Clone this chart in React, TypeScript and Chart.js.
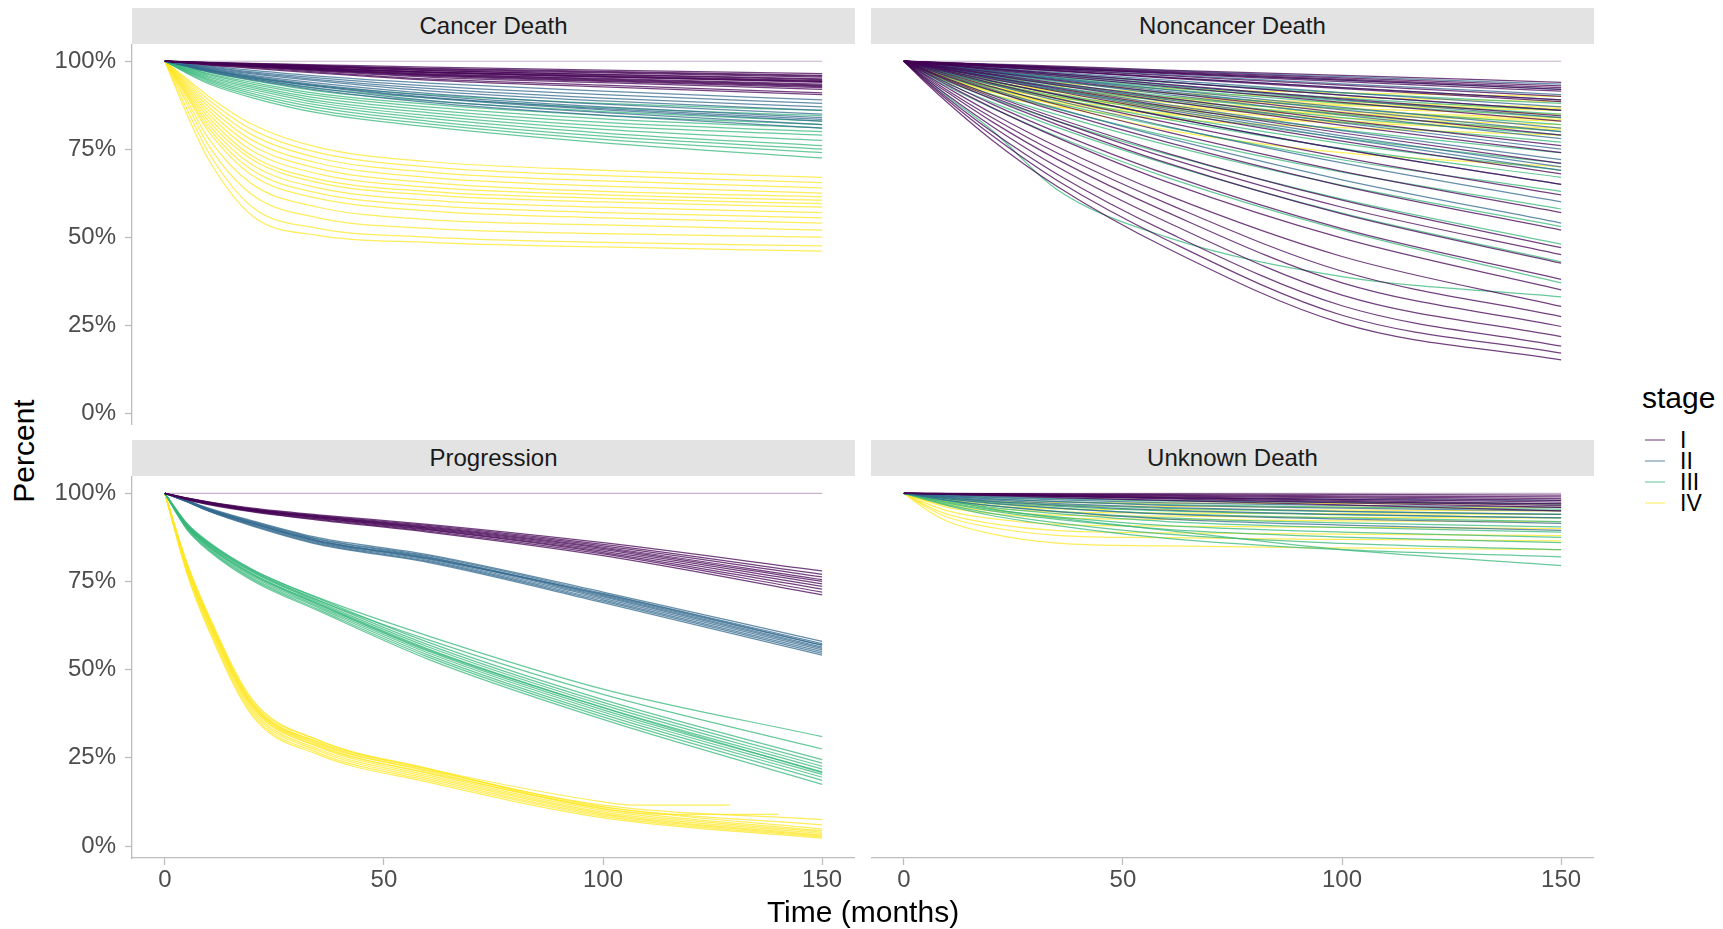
import React, { useEffect, useRef } from "react";
import { Chart, registerables } from "chart.js";

Chart.register(...registerables);

// ---------------- data ----------------
const TIME = [0, 5, 10, 20, 35, 60, 100, 150];
const STAGES = ["I", "II", "III", "IV"];
const Y_TICKS = [0, 25, 50, 75, 100];
const X_TICKS = [0, 50, 100, 150];
const FLAT_LINE = [100, 100, 100, 100, 100, 100, 100, 100];

// Cancer Death
const cancerI = [
  [100, 99.9, 99.7, 99.4, 99, 98.3, 97.5, 96.5],
  [100, 99.8, 99.6, 99.3, 98.8, 98, 97.1, 96],
  [100, 99.8, 99.6, 99.2, 98.7, 97.8, 96.9, 95.8],
  [100, 99.8, 99.6, 99.2, 98.6, 97.6, 96.7, 95.5],
  [100, 99.8, 99.5, 99, 98.4, 97.3, 96.3, 95],
  [100, 99.7, 99.5, 99.1, 98.5, 97.4, 96.2, 94.8],
  [100, 99.7, 99.5, 99, 98.2, 97, 95.9, 94.5],
  [100, 99.7, 99.4, 98.9, 98.1, 96.9, 95.7, 94.3],
  [100, 99.7, 99.4, 98.9, 98, 96.8, 95.6, 94.2],
  [100, 99.7, 99.4, 98.8, 98, 96.7, 95.5, 94],
  [100, 99.7, 99.3, 98.7, 97.8, 96.4, 95.1, 93.5],
  [100, 99.6, 99.3, 98.7, 97.7, 96.3, 94.9, 93.2],
  [100, 99.6, 99.3, 98.6, 97.6, 96.1, 94.7, 93],
  [100, 99.6, 99.2, 98.6, 97.5, 96, 94.5, 92.8],
  [100, 99.6, 99.2, 98.5, 97.4, 95.8, 94.3, 92.5],
  [100, 99.6, 99.1, 98.4, 97.2, 95.5, 93.9, 92],
  [100, 99.5, 99, 98.2, 96.9, 95, 93.2, 91],
  [100, 99.5, 98.9, 98, 96.6, 94.6, 92.7, 90.5],
];
const cancerII = [
  [100, 99.3, 98.6, 97.4, 95.8, 93.8, 91.5, 89],
  [100, 99.2, 98.4, 97, 95.3, 93, 90.5, 88],
  [100, 99.1, 98.2, 96.7, 94.8, 92.3, 89.5, 87],
  [100, 99, 98, 96.4, 94.4, 91.6, 88.7, 86],
  [100, 98.9, 97.8, 96, 93.8, 90.9, 87.8, 85],
  [100, 98.8, 97.6, 95.7, 93.3, 90.3, 87, 84],
  [100, 98.7, 97.4, 95.3, 92.8, 89.6, 86.2, 83],
  [100, 98.6, 97.2, 95, 92.3, 88.9, 85.4, 82],
  [100, 98.5, 97, 94.7, 91.8, 88.3, 84.6, 81],
  [100, 98.8, 97.5, 95.4, 93, 89.8, 86.5, 83.5],
];
const cancerIII = [
  [100, 98.8, 97.6, 95.5, 93, 90.5, 88, 86],
  [100, 98.6, 97.2, 95, 92.2, 89.6, 86.8, 84.5],
  [100, 98.4, 96.9, 94.5, 91.5, 88.7, 85.7, 83],
  [100, 98.2, 96.5, 94, 90.8, 87.8, 84.6, 82],
  [100, 98, 96.2, 93.5, 90.2, 87, 83.6, 81],
  [100, 97.8, 95.8, 93, 89.5, 86.2, 82.6, 80],
  [100, 97.6, 95.5, 92.5, 88.8, 85.4, 81.6, 79],
  [100, 97.4, 95.1, 92, 88.2, 84.6, 80.6, 77.5],
  [100, 97.2, 94.8, 91.4, 87.5, 83.8, 79.6, 76],
  [100, 97, 94.4, 90.8, 86.8, 83, 78.7, 75],
  [100, 96.8, 94, 90.2, 86, 82.2, 77.8, 74],
  [100, 96.6, 93.6, 89.6, 85.3, 81.4, 76.8, 72.5],
];
const cancerIV = [
  [100, 95, 90, 82, 75.5, 71.5, 69, 67],
  [100, 94.5, 89, 80.5, 74, 70, 67.5, 65.5],
  [100, 94, 88, 79, 72.5, 68.5, 66, 64],
  [100, 93.5, 87, 77.5, 71, 67, 64.5, 62.5],
  [100, 93, 86, 76, 69.5, 65.5, 63, 61.5],
  [100, 92.5, 85, 74.5, 68, 64.2, 62, 60.5],
  [100, 92, 84, 73, 66.5, 63, 61, 59.5],
  [100, 91.5, 83, 72, 65.5, 62, 60, 58.5],
  [100, 91, 82, 70.5, 64, 60.5, 58.5, 57],
  [100, 90.5, 81, 69, 62.5, 59, 57, 55.5],
  [100, 90, 80, 67.5, 61, 57.5, 55.5, 54],
  [100, 89, 78, 65, 58.5, 55, 53.5, 52],
  [100, 88, 76, 62, 55.5, 52.5, 51, 50],
  [100, 86.5, 74, 58.5, 52.5, 50, 48.5, 47.5],
  [100, 85, 72, 56, 50.5, 48.5, 47.2, 46],
];

// Noncancer Death
const noncancerI = [
  [100, 99.8, 99.6, 99.2, 98.6, 97.5, 96, 94],
  [100, 99.8, 99.5, 99, 98.3, 97.1, 95.3, 93],
  [100, 99.7, 99.5, 99, 98.2, 96.9, 94.9, 92.5],
  [100, 99.7, 99.4, 98.9, 98, 96.7, 94.6, 92],
  [100, 99.7, 99.4, 98.8, 97.9, 96.5, 94.2, 91.5],
  [100, 99.6, 99.3, 98.6, 97.6, 95.9, 93.2, 90],
  [100, 99.6, 99.2, 98.5, 97.3, 95.4, 92.5, 89],
  [100, 99.6, 99.2, 98.4, 97.2, 95.2, 92.2, 88.5],
  [100, 99.5, 99, 98, 96.5, 94.1, 90.4, 86],
  [100, 99.4, 98.9, 97.8, 96.1, 93.4, 89.3, 84.5],
  [100, 99.4, 98.8, 97.5, 95.7, 92.8, 88.3, 83],
  [100, 99.2, 98.4, 96.9, 94.6, 91, 85.4, 79],
  [100, 99.1, 98.2, 96.4, 93.8, 89.6, 83.2, 76],
  [100, 99, 98, 96.1, 93.2, 88.6, 81.8, 74],
  [100, 98.9, 97.7, 95.5, 92.3, 87.2, 79.6, 71],
  [100, 98.7, 97.5, 95, 91.4, 85.7, 77.3, 68],
  [100, 98.6, 97.2, 94.4, 90.5, 84.2, 75, 65],
  [100, 98.4, 96.9, 93.8, 89.4, 82.6, 72.7, 62],
  [100, 98.1, 96.3, 92.8, 87.7, 79.9, 68.7, 57],
  [100, 97.8, 95.7, 91.7, 85.8, 77, 64.6, 52],
  [100, 97.5, 95.1, 90.4, 83.8, 73.9, 60.5, 47],
  [100, 97.4, 94.8, 89.9, 83, 72.6, 58.5, 45],
  [100, 97.2, 94.5, 89.3, 82, 71.1, 56.6, 42.6],
  [100, 96.8, 93.8, 87.9, 79.8, 67.9, 52.4, 38],
  [100, 96.6, 93.2, 86.9, 78.3, 65.7, 49.7, 35],
  [100, 96.1, 92.4, 85.3, 75.7, 62, 44.5, 30.3],
  [100, 95.8, 91.7, 84.1, 73.9, 59.6, 40.3, 27.4],
  [100, 95.4, 91.1, 82.9, 72.1, 57.1, 37, 24.6],
  [100, 95, 90.3, 81.6, 70, 54.3, 33.5, 21.7],
  [100, 94.6, 89.5, 80.1, 67.9, 51.5, 30.5, 19],
  [100, 94.3, 88.9, 79, 66.1, 49.2, 27.8, 17],
  [100, 93.9, 88.2, 77.7, 64.4, 46.9, 25.5, 15.1],
];
const noncancerII = [
  [100, 99.8, 99.5, 99.1, 98.4, 97.3, 95.6, 93.5],
  [100, 99.7, 99.4, 98.9, 98, 96.7, 94.6, 92],
  [100, 99.6, 99.3, 98.7, 97.7, 96.1, 93.6, 90.5],
  [100, 99.6, 99.2, 98.5, 97.3, 95.4, 92.5, 89],
  [100, 99.5, 99.1, 98.1, 96.8, 94.6, 91.1, 87],
  [100, 99.5, 99, 98, 96.5, 94.1, 90.4, 86],
  [100, 99.4, 98.8, 97.7, 96, 93.3, 89, 84],
  [100, 99.3, 98.6, 97.2, 95.2, 91.9, 86.9, 81],
  [100, 99.3, 98.5, 97.1, 94.9, 91.4, 86.2, 80],
  [100, 99.2, 98.3, 96.7, 94.4, 90.5, 84.7, 78],
  [100, 99, 98.1, 96.2, 93.5, 89.1, 82.5, 75],
  [100, 98.9, 97.8, 95.7, 92.6, 87.7, 80.3, 72],
  [100, 98.8, 97.7, 95.4, 92, 86.7, 78.8, 70],
  [100, 98.8, 97.6, 95.2, 91.7, 86.2, 78.1, 69],
  [100, 98.6, 97.2, 94.4, 90.5, 84.2, 75, 65],
  [100, 98.3, 96.6, 93.4, 88.8, 81.5, 71.1, 60],
  [100, 98, 96, 92.1, 86.6, 78.2, 66.3, 54],
];
const noncancerIII = [
  [100, 99.3, 98.7, 97.6, 96.2, 94, 91, 88],
  [100, 99.2, 98.5, 97.2, 95.5, 93, 89.5, 86],
  [100, 99.1, 98.4, 97, 95.2, 92.5, 88.8, 85],
  [100, 99, 98.2, 96.8, 94.9, 92, 88, 84],
  [100, 98.9, 98, 96.4, 94.2, 91, 86.5, 82],
  [100, 98.8, 97.8, 96, 93.6, 90, 85, 80],
  [100, 98.7, 97.7, 95.8, 93.2, 89.4, 84, 79],
  [100, 98.6, 97.5, 95.4, 92.6, 88.5, 82.7, 77],
  [100, 98.4, 97.1, 94.8, 91.7, 87, 80.5, 74],
  [100, 98.2, 96.8, 94.2, 90.7, 85.5, 78.2, 71],
  [100, 98.1, 96.6, 93.8, 90, 84.5, 76.6, 69],
  [100, 98, 96.4, 93.4, 89.4, 83.5, 75.2, 67],
  [100, 97.8, 95.9, 92.6, 88, 81.3, 72, 63],
  [100, 97.5, 95.4, 91.6, 86.4, 78.8, 68.5, 58],
  [100, 97.2, 94.8, 90.6, 84.8, 76.2, 64.7, 53],
  [100, 96.9, 94.2, 89.5, 83, 73.6, 60.8, 48],
  [100, 96.6, 93.6, 88.4, 81.2, 70.8, 56.8, 43],
  [100, 96.2, 92.8, 86.8, 78.6, 67, 52, 37],
  [100, 95, 90, 80.5, 63.5, 50, 38.8, 33],
];
const noncancerIV = [
  [100, 98.5, 97.3, 95.5, 93.8, 92.2, 91, 90],
  [100, 98.3, 96.9, 94.8, 92.9, 91, 89.7, 88.5],
  [100, 98, 96.5, 94.1, 91.9, 89.9, 88.3, 87],
  [100, 98, 96.4, 93.9, 91.6, 89.5, 87.8, 86.5],
  [100, 97.9, 96.2, 93.7, 91.3, 89.1, 87.4, 86],
  [100, 97.8, 96, 93.3, 90.7, 88.3, 86.5, 85],
  [100, 97.6, 95.7, 92.8, 90.1, 87.5, 85.6, 84],
  [100, 97.5, 95.5, 92.6, 89.8, 87.1, 85.1, 83.5],
  [100, 97.5, 95.4, 92.4, 89.5, 86.7, 84.7, 83],
  [100, 97.3, 95.1, 91.9, 88.8, 86, 83.8, 82],
  [100, 97.2, 94.9, 91.5, 88.3, 85.2, 83, 81],
  [100, 97.1, 94.7, 91.2, 87.9, 84.8, 82.5, 80.5],
  [100, 96.9, 94.3, 90.5, 87, 83.6, 81.1, 79],
  [100, 98, 96, 92.5, 87.5, 80.5, 74, 70],
];

// Progression
const progressionI = [
  [100, 98.7, 97.6, 95.8, 93.9, 91.2, 86, 78],
  [100, 98.6, 97.5, 95.6, 93.7, 90.9, 85.5, 77],
  [100, 98.6, 97.4, 95.5, 93.5, 90.6, 85.1, 76.3],
  [100, 98.5, 97.3, 95.4, 93.4, 90.4, 84.7, 75.5],
  [100, 98.5, 97.3, 95.3, 93.3, 90.2, 84.4, 75],
  [100, 98.4, 97.2, 95.2, 93.1, 90, 84, 74.3],
  [100, 98.4, 97.1, 95.1, 93, 89.8, 83.6, 73.6],
  [100, 98.3, 97, 95, 92.8, 89.6, 83.2, 72.8],
  [100, 98.3, 96.9, 94.9, 92.6, 89.3, 82.8, 72],
  [100, 98.2, 96.8, 94.7, 92.4, 89, 82.3, 71.2],
];
const progressionII = [
  [100, 98, 95.8, 92.2, 87.4, 82.6, 72, 58],
  [100, 97.9, 95.6, 92, 87.1, 82.3, 71.6, 57.4],
  [100, 97.9, 95.5, 91.8, 86.9, 82, 71.2, 56.9],
  [100, 97.8, 95.4, 91.6, 86.6, 81.8, 70.9, 56.4],
  [100, 97.8, 95.3, 91.5, 86.4, 81.6, 70.6, 56],
  [100, 97.7, 95.2, 91.3, 86.2, 81.3, 70.2, 55.6],
  [100, 97.7, 95.1, 91.1, 86, 81, 69.8, 55.1],
  [100, 97.6, 95, 90.9, 85.7, 80.7, 69.4, 54.6],
  [100, 97.6, 94.9, 90.7, 85.5, 80.4, 69, 54.1],
  [100, 97.8, 95.4, 91.5, 86.5, 81.5, 71.4, 57],
];
const progressionIII = [
  [100, 91.5, 86.2, 78.4, 70.2, 57.8, 41.5, 24.5],
  [100, 91.2, 85.8, 78, 69.7, 57.1, 40.7, 23.5],
  [100, 91, 85.5, 77.6, 69.2, 56.5, 40, 22.6],
  [100, 90.8, 85.2, 77.2, 68.8, 55.9, 39.3, 21.8],
  [100, 90.6, 84.9, 76.8, 68.4, 55.3, 38.6, 21],
  [100, 90.4, 84.6, 76.4, 68, 54.8, 38, 20.3],
  [100, 90.2, 84.3, 76, 67.6, 54.2, 37.3, 19.5],
  [100, 90, 84, 75.6, 67.1, 53.6, 36.6, 18.6],
  [100, 89.8, 83.7, 75.2, 66.7, 53, 35.9, 17.5],
  [100, 91, 85.6, 77.8, 69.6, 58.5, 43, 27.5],
  [100, 91.4, 86, 78.3, 70.4, 59.6, 44.5, 31],
  [100, 90.7, 85, 77, 68.6, 55.6, 39.2, 20.8],
];
const progressionIV = [
  [100, 80.5, 65.5, 41.5, 30, 21.8, 11.2, 4.8],
  [100, 80, 64.8, 40.6, 29.3, 21.2, 10.6, 4.3],
  [100, 79.5, 64.2, 39.9, 28.7, 20.6, 10.1, 3.9],
  [100, 79, 63.6, 39.2, 28.1, 20.1, 9.6, 3.5],
  [100, 78.6, 63, 38.6, 27.5, 19.6, 9.2, 3.1],
  [100, 78.2, 62.4, 38, 27, 19.1, 8.8, 2.8],
  [100, 77.8, 61.8, 37.4, 26.4, 18.6, 8.4, 2.5],
  [100, 77.4, 61.2, 36.8, 25.9, 18.1, 8, 2.2],
  [100, 79.2, 64, 40, 29, 21.5, 11.6, 7.5],
  [100, 78.8, 63.2, 39.4, 28.4, 20.8, 11, 6],
];
const progressionIVShortTime = [
  [0, 5, 10, 20, 35, 60, 100, 107, 129],
  [0, 5, 10, 20, 35, 60, 100, 115, 140],
];
const progressionIVShortValues = [
  [100, 79.6, 64.4, 40.2, 29.5, 21.9, 12.5, 11.6, 11.6],
  [100, 80.2, 65, 41, 30, 22, 10.5, 9, 9],
];

// Unknown Death
const unknownI = [
  [100, 100, 99.95, 99.9, 99.85, 99.8, 99.7, 99.5],
  [100, 99.97, 99.93, 99.87, 99.77, 99.6, 99.3, 99],
  [100, 99.95, 99.9, 99.8, 99.65, 99.4, 99, 98.5],
  [100, 99.93, 99.87, 99.73, 99.5, 99.2, 98.7, 98],
  [100, 99.92, 99.83, 99.67, 99.4, 99, 98.3, 97.5],
  [100, 99.9, 99.8, 99.6, 99.3, 98.8, 98, 97],
  [100, 99.88, 99.77, 99.5, 99.2, 98.6, 97.7, 96.5],
  [100, 99.87, 99.73, 99.47, 99.07, 98.4, 97.3, 96],
  [100, 99.83, 99.67, 99.33, 98.8, 98, 96.7, 95],
];
const unknownII = [
  [100, 99.85, 99.7, 99.45, 99.1, 98.7, 98.3, 98],
  [100, 99.75, 99.5, 99.1, 98.6, 98, 97.5, 97],
  [100, 99.65, 99.3, 98.8, 98.1, 97.3, 96.6, 96],
  [100, 99.55, 99.1, 98.4, 97.6, 96.6, 95.8, 95],
  [100, 99.45, 98.9, 98.1, 97.1, 95.9, 94.9, 94],
  [100, 99.35, 98.7, 97.7, 96.6, 95.2, 94, 93],
  [100, 99.2, 98.4, 97.2, 95.8, 94.1, 92.7, 91.5],
  [100, 99, 98, 96.5, 94.8, 92.7, 91, 89.5],
];
const unknownIII = [
  [100, 99.7, 99.4, 98.9, 98.4, 97.8, 97.4, 97],
  [100, 99.6, 99.1, 98.4, 97.6, 96.8, 96.1, 95.5],
  [100, 99.4, 98.8, 97.8, 96.8, 95.7, 94.8, 94],
  [100, 99.3, 98.6, 97.5, 96.3, 95, 93.9, 93],
  [100, 99.2, 98.4, 97.1, 95.8, 94.2, 93, 92],
  [100, 99, 98, 96.5, 94.9, 93, 91.6, 90.5],
  [100, 98.9, 97.8, 96, 94.2, 92, 90.3, 89],
  [100, 98.7, 97.4, 95.4, 93.3, 90.8, 89, 87.5],
  [100, 98.6, 97.2, 95, 92.6, 89.8, 87.6, 86],
  [100, 98.4, 96.8, 94.3, 91.6, 88.4, 85.8, 84],
  [100, 98.2, 96.5, 93.7, 90.8, 87.2, 84, 82],
  [100, 99, 98, 95.6, 93, 89.5, 84, 79.5],
];
const unknownIV = [
  [100, 95.5, 92, 88.5, 85.9, 85.1, 84.5, 84],
  [100, 96.2, 93.2, 90.3, 88.1, 87.4, 86.9, 86.5],
  [100, 96.6, 94, 91.4, 89.4, 88.8, 88.4, 88],
  [100, 97.2, 95, 92.8, 91.2, 90.7, 90.3, 90],
  [100, 97.8, 96, 94.2, 93, 92.6, 92.2, 92],
  [100, 98, 96.5, 95, 93.8, 93.5, 93.2, 93],
  [100, 98.3, 97, 95.7, 94.7, 94.4, 94.2, 94],
  [100, 98.6, 97.5, 96.4, 95.6, 95.4, 95.2, 95],
  [100, 98.9, 98, 97.1, 96.5, 96.3, 96.1, 96],
  [100, 99.2, 98.5, 97.8, 97.4, 97.2, 97.1, 97],
];

// ---------------- styling ----------------
const FONT = "'Liberation Sans', Arial, Helvetica, sans-serif";
const STAGE_RGB = ["68,1,84", "49,104,142", "53,183,121", "253,231,37"];
const LINE_ALPHA = 0.75;
const LINE_WIDTH = 1.25;
const AXIS_COLOR = "#bdbdbd";
const TICK_TEXT = "#4d4d4d";

type Series = { time: number[]; values: number[] };

function makeSeries(rows: number[][], times?: number[][]): Series[] {
  return rows.map((r, i) => ({ time: times ? times[i] : TIME, values: r }));
}

type PanelSpec = {
  title: string;
  stages: Series[][];
};

const PANELS: PanelSpec[] = [
  { title: "Cancer Death", stages: [makeSeries(cancerI), makeSeries(cancerII), makeSeries(cancerIII), makeSeries(cancerIV)] },
  { title: "Noncancer Death", stages: [makeSeries(noncancerI), makeSeries(noncancerII), makeSeries(noncancerIII), makeSeries(noncancerIV)] },
  {
    title: "Progression",
    stages: [
      makeSeries(progressionI),
      makeSeries(progressionII),
      makeSeries(progressionIII),
      [...makeSeries(progressionIV), ...makeSeries(progressionIVShortValues, progressionIVShortTime)],
    ],
  },
  { title: "Unknown Death", stages: [makeSeries(unknownI), makeSeries(unknownII), makeSeries(unknownIII), makeSeries(unknownIV)] },
];

type Box = { left: number; top: number; width: number; height: number };

function PanelChart({ spec, showX, showY, box }: { spec: PanelSpec; showX: boolean; showY: boolean; box: Box }) {
  const ref = useRef<HTMLCanvasElement>(null);
  useEffect(() => {
    const datasets: any[] = [];
    datasets.push({
      data: TIME.map((t, i) => ({ x: t, y: FLAT_LINE[i] })),
      borderColor: `rgba(${STAGE_RGB[0]},0.3)`,
      borderWidth: 1.2,
    });
    spec.stages.forEach((group, si) => {
      group.forEach((s) => {
        datasets.push({
          data: s.time.map((t, i) => ({ x: t, y: s.values[i] })),
          borderColor: `rgba(${STAGE_RGB[si]},${LINE_ALPHA})`,
          borderWidth: LINE_WIDTH,
        });
      });
    });
    const chart = new Chart(ref.current as HTMLCanvasElement, {
      type: "line",
      data: { datasets },
      options: {
        animation: false,
        responsive: false,
        maintainAspectRatio: false,
        events: [],
        layout: { padding: 0 },
        plugins: { legend: { display: false }, tooltip: { enabled: false }, title: { display: false } },
        elements: {
          point: { radius: 0 },
          line: { borderWidth: LINE_WIDTH, cubicInterpolationMode: "monotone", fill: false },
        },
        scales: {
          x: {
            type: "linear",
            min: -7.5,
            max: 157.5,
            display: showX,
            grid: {
              display: true,
              drawOnChartArea: false,
              drawTicks: true,
              tickLength: 7,
              tickColor: AXIS_COLOR,
              tickWidth: 1.3,
            },
            border: { display: true, color: AXIS_COLOR, width: 1.3 },
            ticks: {
              color: TICK_TEXT,
              font: { family: FONT, size: 24 },
              padding: 1,
              maxRotation: 0,
              autoSkip: false,
            },
            afterBuildTicks: (s: any) => {
              s.ticks = X_TICKS.map((v) => ({ value: v }));
            },
            afterFit: (s: any) => {
              if (showX) s.height = 42;
              s.paddingLeft = 0;
              s.paddingRight = 0;
            },
          },
          y: {
            type: "linear",
            min: -3.4,
            max: 104.9,
            display: showY,
            grid: {
              display: true,
              drawOnChartArea: false,
              drawTicks: true,
              tickLength: 7,
              tickColor: AXIS_COLOR,
              tickWidth: 1.3,
            },
            border: { display: true, color: AXIS_COLOR, width: 1.3 },
            ticks: {
              color: TICK_TEXT,
              font: { family: FONT, size: 24 },
              padding: 9,
              autoSkip: false,
              callback: (v: any) => `${v}%`,
            },
            afterBuildTicks: (s: any) => {
              s.ticks = Y_TICKS.map((v) => ({ value: v }));
            },
            afterFit: (s: any) => {
              if (showY) s.width = 92;
              s.paddingTop = 0;
              s.paddingBottom = 0;
            },
          },
        },
      } as any,
    });
    return () => chart.destroy();
  }, []);
  return (
    <canvas
      ref={ref}
      width={box.width}
      height={box.height}
      style={{ position: "absolute", left: box.left, top: box.top, width: box.width, height: box.height }}
    />
  );
}

function Strip({ title, left, top }: { title: string; left: number; top: number }) {
  return (
    <div
      style={{
        position: "absolute",
        left,
        top,
        width: 723,
        height: 36,
        background: "#e3e3e3",
        color: "#1a1a1a",
        fontFamily: FONT,
        fontSize: 24,
        lineHeight: "36px",
        textAlign: "center",
        whiteSpace: "nowrap",
      }}
    >
      {title}
    </div>
  );
}

export default function App() {
  const legendY = [440, 461, 482, 503];
  return (
    <div
      style={{
        position: "absolute",
        left: 0,
        top: 0,
        width: 1723,
        height: 929,
        background: "#ffffff",
        overflow: "hidden",
        fontFamily: FONT,
      }}
    >
      <Strip title={PANELS[0].title} left={132} top={8} />
      <Strip title={PANELS[1].title} left={871} top={8} />
      <Strip title={PANELS[2].title} left={132} top={440} />
      <Strip title={PANELS[3].title} left={871} top={440} />

      <PanelChart spec={PANELS[0]} showX={false} showY={true} box={{ left: 40, top: 44, width: 815, height: 381 }} />
      <PanelChart spec={PANELS[1]} showX={false} showY={false} box={{ left: 871, top: 44, width: 723, height: 381 }} />
      <PanelChart spec={PANELS[2]} showX={true} showY={true} box={{ left: 40, top: 476, width: 815, height: 424 }} />
      <PanelChart spec={PANELS[3]} showX={true} showY={false} box={{ left: 871, top: 476, width: 723, height: 424 }} />

      <div
        style={{
          position: "absolute",
          left: 24,
          top: 451,
          transform: "translate(-50%, -50%) rotate(-90deg)",
          fontSize: 30,
          lineHeight: 1,
          color: "#000",
          whiteSpace: "nowrap",
        }}
      >
        Percent
      </div>
      <div
        style={{
          position: "absolute",
          left: 863,
          top: 912,
          transform: "translate(-50%, -50%)",
          fontSize: 30,
          lineHeight: 1,
          color: "#000",
          whiteSpace: "nowrap",
        }}
      >
        Time (months)
      </div>

      <div
        style={{
          position: "absolute",
          left: 1642,
          top: 398,
          transform: "translate(0, -50%)",
          fontSize: 30,
          lineHeight: 1,
          color: "#000",
        }}
      >
        stage
      </div>
      {STAGES.map((s, i) => (
        <React.Fragment key={s}>
          <div
            style={{
              position: "absolute",
              left: 1645,
              top: legendY[i] - 1,
              width: 20,
              height: 2,
              background: `rgba(${STAGE_RGB[i]},0.4)`,
            }}
          />
          <div
            style={{
              position: "absolute",
              left: 1680,
              top: legendY[i],
              transform: "translate(0, -50%)",
              fontSize: 23,
              lineHeight: 1,
              color: "#000",
            }}
          >
            {s}
          </div>
        </React.Fragment>
      ))}
    </div>
  );
}
